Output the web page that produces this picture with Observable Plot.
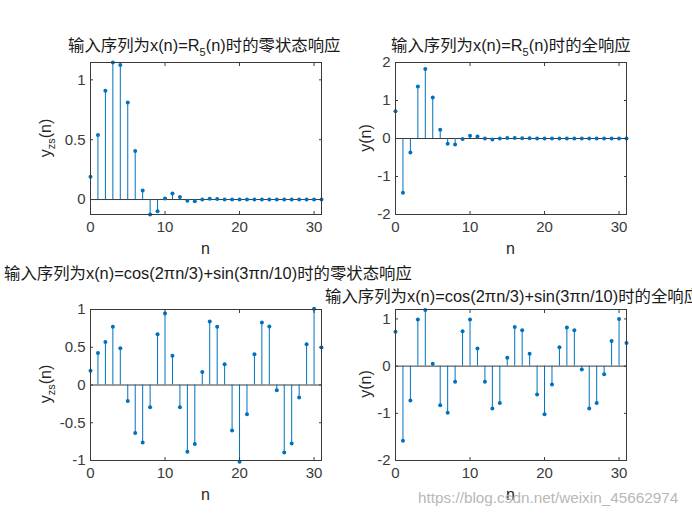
<!DOCTYPE html>
<html>
<head>
<meta charset="utf-8">
<script src="https://cdn.jsdelivr.net/npm/d3@7"></script>
<script src="https://cdn.jsdelivr.net/npm/@observablehq/plot@0.6"></script>
<style>
  html, body { margin: 0; padding: 0; background: #fff; }
  #wrap { position: relative; width: 692px; height: 519px; overflow: hidden; background: #fff;
          font-family: "Liberation Sans", Arial, "Noto Sans CJK SC", sans-serif; color: #262626; }
  #wrap svg { position: absolute; left: 0; top: 0; }
  .t { position: absolute; white-space: nowrap; font-size: 16.4px; color: #1a1a1a; transform: translate(0, -50%); line-height: 1; }
  .t sub { font-size: 11px; vertical-align: -5px; line-height: 0; }
  .lab { position: absolute; white-space: nowrap; font-size: 16px; color: #262626; line-height: 1; }
  .ylab { transform: translate(-50%, -50%) rotate(-90deg); }
  .ylab sub { font-size: 11px; vertical-align: -4px; line-height: 0; }
  .xlab { transform: translate(-50%, -50%); }
  .wm { position: absolute; white-space: nowrap; font-size: 15.3px; color: #b8b8b8; transform: translate(0, -50%); }
</style>
</head>
<body>
<div id="wrap"></div>
<script>
// ---- data ----
const n = [0,1,2,3,4,5,6,7,8,9,10,11,12,13,14,15,16,17,18,19,20,21,22,23,24,25,26,27,28,29,30,31];
const xTicks = [0, 10, 20, 30];

const yzsR5 = [0.19, 0.54, 0.91, 1.145, 1.125, 0.81, 0.405, 0.075, -0.125, -0.097, 0.008, 0.05, 0.022, -0.011, -0.014, 0, 0.006, 0.004, 0, 0, 0, 0, 0, 0, 0, 0, 0, 0, 0, 0, 0, 0];
const yR5 = [0.72, -1.43, -0.37, 1.37, 1.83, 1.08, 0.23, -0.14, -0.16, -0.01, 0.07, 0.05, 0, -0.025, 0, 0.01, 0.01, 0.005, 0.005, 0, 0, 0, 0, 0, 0, 0, 0, 0, 0, 0, 0, 0];
const yzsCos = [0.19, 0.425, 0.57, 0.77, 0.487, -0.212, -0.637, -0.761, -0.296, 0.673, 0.947, 0.389, -0.296, -0.885, -0.783, 0.173, 0.841, 0.77, 0.274, -0.602, -1.018, -0.389, 0.407, 0.827, 0.774, -0.071, -0.894, -0.774, -0.164, 0.54, 1.01, 0.496];
const yCos = [0.73, -1.58, -0.73, 0.99, 1.19, 0.05, -0.83, -0.99, -0.33, 0.74, 0.99, 0.375, -0.33, -0.90, -0.78, 0.18, 0.83, 0.76, 0.26, -0.60, -1.02, -0.39, 0.40, 0.82, 0.76, -0.07, -0.90, -0.78, -0.17, 0.535, 1.0, 0.49];

const yTicks1 = [0, 0.5, 1];
const yTicks2 = [-2, -1, 0, 1, 2];
const yTicks3 = [-1, -0.5, 0, 0.5, 1];
const yTicks4 = [-2, -1, 0, 1];

const titles = [
  "输入序列为x(n)=R<sub>5</sub>(n)时的零状态响应",
  "输入序列为x(n)=R<sub>5</sub>(n)时的全响应",
  "输入序列为x(n)=cos(2πn/3)+sin(3πn/10)时的零状态响应",
  "输入序列为x(n)=cos(2πn/3)+sin(3πn/10)时的全响应"
];
const yLabels = ["y<sub>zs</sub>(n)", "y(n)", "y<sub>zs</sub>(n)", "y(n)"];
const xLabel = "n";
const watermark = "https://blog.csdn.net/weixin_45662974";

// ---- layout ----
const W = 692, H = 519;
const blue = "#0072BD";
const axisColor = "#3a3a3a";

const panels = [
  {v: yzsR5, yDomain: d3.extent(yzsR5), yTicks: yTicks1, box: [90, 321, 62, 214], title: [68, 45], ylab: [46, 138]},
  {v: yR5, yDomain: [-2, 2], yTicks: yTicks2, box: [395, 626, 62, 214], title: [391, 45], ylab: [366, 138]},
  {v: yzsCos, yDomain: [-1, 1], yTicks: yTicks3, box: [90, 321, 309, 460], title: [4, 273], ylab: [46, 384]},
  {v: yCos, yDomain: [-2, 1.2], yTicks: yTicks4, box: [395, 626, 309, 460], title: [325, 296], ylab: [366, 384]}
];

const wrap = document.getElementById("wrap");
const fmt = d => String(d);

panels.forEach((p, i) => {
  const data = n.map((k, j) => ({n: k, v: p.v[j]}));
  const [l, r, t, b] = p.box;
  const chart = Plot.plot({
    width: W, height: H,
    marginLeft: l, marginRight: W - r, marginTop: t, marginBottom: H - b,
    style: {background: "transparent", fontFamily: "'Liberation Sans', Arial, sans-serif", fontSize: "15px", color: axisColor, overflow: "visible"},
    x: {domain: [0, 31]},
    y: {domain: p.yDomain},
    marks: [
      Plot.ruleY([0], {stroke: axisColor, strokeWidth: 1}),
      Plot.ruleX(data, {x: "n", y: "v", stroke: blue, strokeWidth: 1}),
      Plot.dot(data, {x: "n", y: "v", r: 2, fill: blue, stroke: "none"}),
      Plot.frame({stroke: axisColor, strokeWidth: 1}),
      Plot.axisX(xTicks, {anchor: "bottom", tickSize: -3, tickPadding: 10, tickFormat: fmt, label: null, fontSize: 15}),
      Plot.axisX(xTicks, {anchor: "top", tickSize: -3, tickFormat: () => "", label: null}),
      Plot.axisY(p.yTicks, {anchor: "left", tickSize: -3, tickPadding: 8, tickFormat: fmt, label: null, fontSize: 15}),
      Plot.axisY(p.yTicks, {anchor: "right", tickSize: -3, tickFormat: () => "", label: null})
    ]
  });
  wrap.appendChild(chart);

  const tt = document.createElement("div");
  tt.className = "t";
  tt.innerHTML = titles[i];
  tt.style.left = p.title[0] + "px";
  tt.style.top = p.title[1] + "px";
  wrap.appendChild(tt);

  const yl = document.createElement("div");
  yl.className = "lab ylab";
  yl.innerHTML = yLabels[i];
  yl.style.left = p.ylab[0] + "px";
  yl.style.top = p.ylab[1] + "px";
  wrap.appendChild(yl);

  const xl = document.createElement("div");
  xl.className = "lab xlab";
  xl.textContent = xLabel;
  xl.style.left = ((l + r) / 2) + "px";
  xl.style.top = (b + 35) + "px";
  wrap.appendChild(xl);
});

const wm = document.createElement("div");
wm.className = "wm";
wm.textContent = watermark;
wm.style.left = "418px";
wm.style.top = "498px";
wrap.appendChild(wm);
</script>
</body>
</html>
